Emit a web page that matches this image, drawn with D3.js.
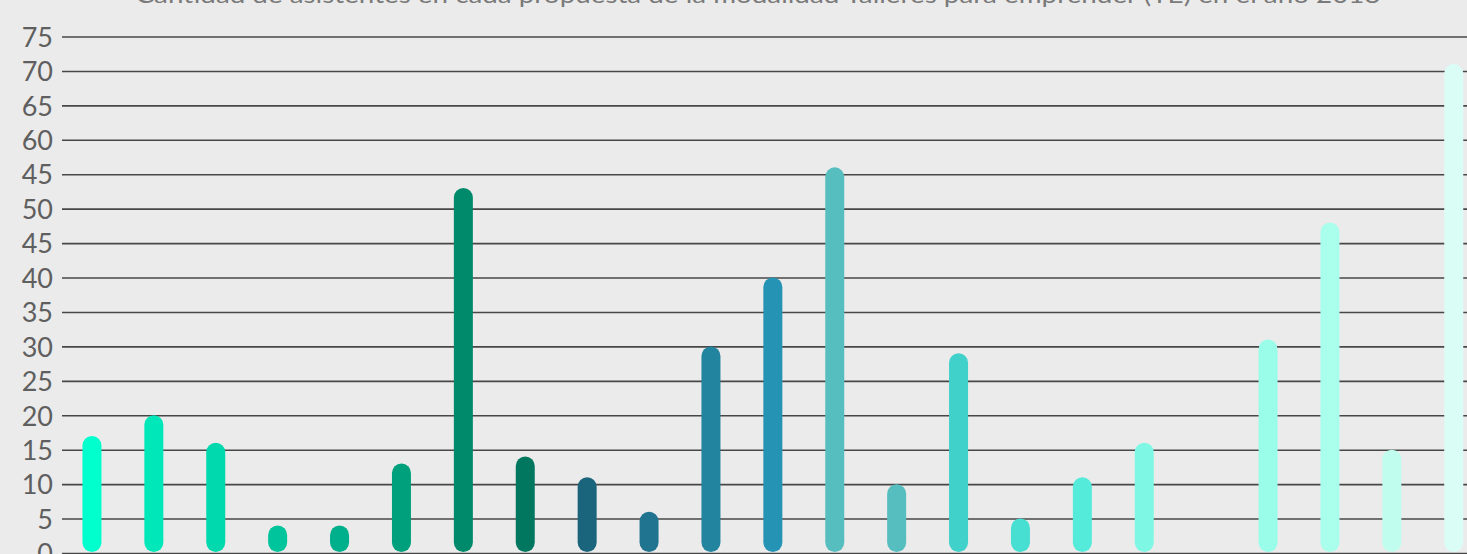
<!DOCTYPE html>
<html>
    <head>
        <meta charset='utf-8'>
        <title>Talleres para emprender 2018</title>
        <style>
            body { margin: 0; background: #ebebeb; overflow: hidden; }
            #chart text { font-family: 'Lato', sans-serif; }
        </style>
    </head>
    <body>
        <script src='https://cdnjs.cloudflare.com/ajax/libs/d3/7.8.5/d3.min.js'></script>
        <div id='chart'></div>
        <script>
            // one entry per propuesta; slot 19 has no bar
            const propuestas = d3.range(1, 24).map((n)=>'P' + n);
            const asistentes = [17, 20, 16, 4, 4, 13, 53, 14, 11, 6, 30, 40, 56, 10, 29, 5, 11, 16, 0, 31, 48, 15, 71];
            const colores = [
                '#00ffcc', '#00e8b9', '#00d8ae', '#00c49c', '#00b08c', '#00a07c',
                '#008a6c', '#00775e', '#1b657c', '#20748f', '#22849f', '#2593b3',
                '#57bec0', '#57bec0', '#40d1ca', '#48dfd3', '#54ebda', '#7ef8e4',
                '#99fdea', '#99fdea', '#aafeec', '#c0fdee', '#dafef5'
            ];
            const tickValues = [0, 5, 10, 15, 20, 25, 30, 35, 40, 45, 50, 55, 60, 65, 70, 75];
            // the original axis shows "45" twice (at 45 and at 55)
            const tickLabels = ['0', '5', '10', '15', '20', '25', '30', '35', '40', '45', '50', '45', '60', '65', '70', '75'];
            const titulo = 'Cantidad de asistentes en cada propuesta de la modalidad Talleres para emprender (TE) en el año 2018';

            const w = 1467;
            const h = 554;
            const margin = {left: 62, top: 36.5, bottom: 0.5};

            const svg = d3
                .select('#chart')
                .append('svg')
                .attr('width', w)
                .attr('height', h);

            const y = d3
                .scaleLinear()
                .domain([0, 75])
                .range([h - margin.bottom - 0.5, margin.top]);

            const x = d3
                .scaleBand()
                .domain(propuestas)
                .range([61, 61 + 23 * 61.9])
                .padding(0);

            const yAxis = d3
                .axisLeft(y)
                .tickValues(tickValues)
                .tickFormat((d, i)=>tickLabels[i])
                .tickSize(-(w - margin.left))
                .tickPadding(9);

            const axisG = svg
                .append('g')
                .attr('transform', 'translate(' + margin.left + ',0)')
                .call(yAxis);

            axisG.select('.domain').remove();
            axisG.selectAll('line')
                .attr('stroke', '#474747')
                .attr('stroke-width', 1.6);
            axisG.selectAll('text')
                .attr('fill', '#5f5f5f')
                .attr('font-size', 27)
                .attr('dy', '0.36em');

            const barW = 19;
            const bars = asistentes
                .map((v, i)=>({v: v, p: propuestas[i], c: colores[i]}))
                .filter((d)=>d.v > 0);

            svg.append('g')
                .selectAll('rect')
                .data(bars)
                .enter()
                .append('rect')
                .attr('x', (d)=>x(d.p) + x.bandwidth() / 2 - barW / 2)
                .attr('y', (d)=>y(d.v))
                .attr('width', barW)
                .attr('height', (d)=>y(0) - 1 - y(d.v))
                .attr('rx', barW / 2)
                .attr('fill', (d)=>d.c);

            svg.append('text')
                .attr('x', 758)
                .attr('y', 3)
                .attr('text-anchor', 'middle')
                .attr('font-size', 23)
                .attr('fill', '#7a7a7a')
                .attr('textLength', 1245)
                .attr('lengthAdjust', 'spacingAndGlyphs')
                .text(titulo);
        </script>
    </body>
</html>
